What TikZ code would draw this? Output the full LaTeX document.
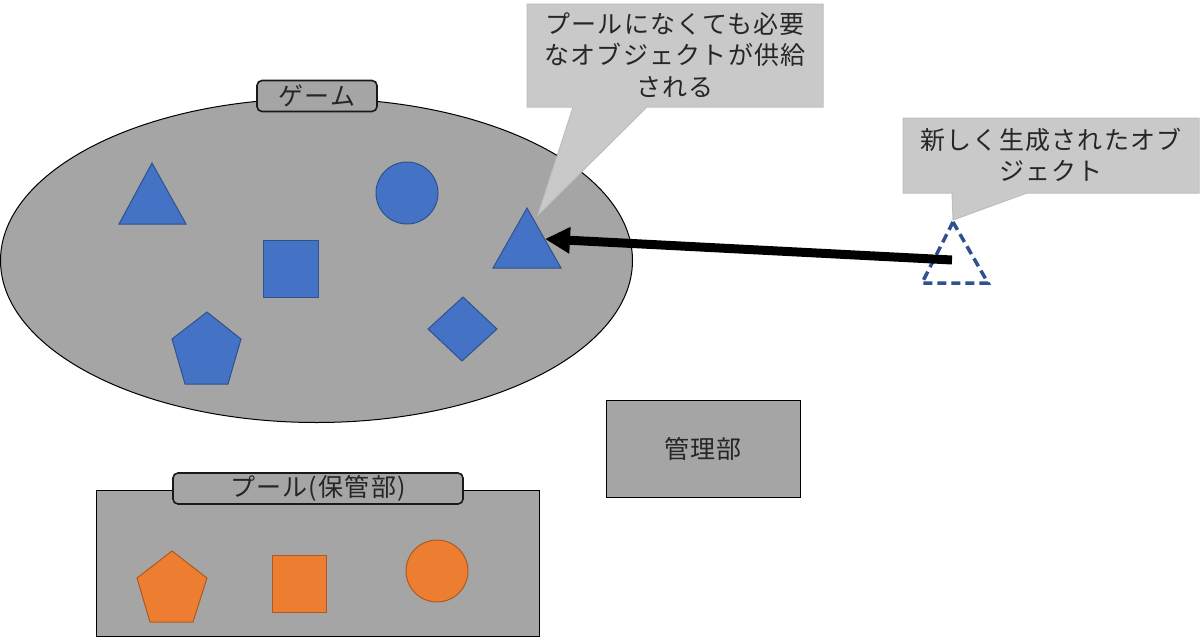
\documentclass[tikz,border=0pt]{standalone}
\usepackage{fontspec}
\newfontfamily\jp[LetterSpace=5]{Noto Sans CJK JP}
\usetikzlibrary{arrows.meta,shapes.geometric}
\definecolor{panelgray}{HTML}{A5A5A5}
\definecolor{blueF}{HTML}{4472C4}
\definecolor{blueD}{HTML}{2F528F}
\definecolor{orF}{HTML}{ED7D31}
\definecolor{orD}{HTML}{AE5A21}
\definecolor{callF}{HTML}{C9C9C9}
\definecolor{callD}{HTML}{BEBEBE}
\definecolor{txt}{HTML}{262626}
\tikzset{
  jtext/.style={font=\jp\fontsize{25}{31.5}\selectfont, text=txt, align=center, inner sep=0pt},
  panel/.style={draw=black, fill=panelgray, line width=1pt, inner sep=0pt},
  labelbox/.style={draw=black!90, fill=panelgray, line width=1.6pt, rounded corners=5pt, inner sep=0pt, font=\jp\fontsize{25}{31}\selectfont, text=txt},
  blueshape/.style={fill=blueF, draw=blueD, line width=1pt},
  orshape/.style={fill=orF, draw=orD, line width=1pt},
  callout/.style={fill=callF, draw=callD, line width=1pt},
  newobj/.style={draw=blueD, line width=3.5pt, dash pattern=on 9pt off 5pt, line join=miter},
  bigarrow/.style={line width=9pt, -{Triangle[length=25pt,width=25pt]}}
}
\begin{document}
\begin{tikzpicture}[x=1pt,y=-1pt]
\useasboundingbox (0,0) rectangle (1200,637);

% game ellipse
\node (game) [panel, ellipse, minimum width=632pt, minimum height=324pt] at (316.5,260.5) {};
\node (gamelabel) [labelbox, minimum width=120pt, minimum height=31pt] at (317,96) {ゲーム};

% blue objects
\draw[blueshape] (152,163) -- (186,224) -- (119,224) -- cycle;
\draw[blueshape] (407,193) circle [radius=31];
\draw[blueshape] (263,240) rectangle (318,297);
\draw[blueshape] (207,312) -- (241,339) -- (228,384) -- (185,384) -- (172,339) -- cycle;
\draw[blueshape] (463,297) -- (497,329) -- (462,361) -- (428,329) -- cycle;
\draw[blueshape] (527,208) -- (561,268) -- (493,268) -- cycle;
\coordinate (target) at (545,239);

% pool
\node (pool) [panel, minimum width=443pt, minimum height=146pt, anchor=north west] at (96,490) {};
\node (poollabel) [labelbox, minimum width=290pt, minimum height=31pt] at (318,488.5) {プール(保管部)};
\draw[orshape] (172,551) -- (207,578) -- (193,622) -- (150,622) -- (137,578) -- cycle;
\draw[orshape] (272,555) rectangle (326,612);
\draw[orshape] (437,571) circle [radius=31];

% manager
\node (manager) [panel, minimum width=194pt, minimum height=97pt, jtext, text width=194pt] at (703,448.5) {管理部};

% callout 1
\path[callout] (527,4) -- (823,4) -- (823,107) -- (647,107) -- (538,215) -- (573,107) -- (527,107) -- cycle;
\node (note1) [jtext] at (675,55) {プールになくても必要\\なオブジェクトが供給\\される};

% new object
\draw[newobj] (953,222) -- (988,283) -- (922,283) -- cycle;
\coordinate (source) at (952,260);

% callout 2
\path[callout] (903,118) -- (1199,118) -- (1199,193) -- (1027,193) -- (953,220) -- (952,193) -- (903,193) -- cycle;
\node (note2) [jtext] at (1051,155) {新しく生成されたオブ\\ジェクト};

% arrow
\draw[bigarrow] (source) -- (target);
\end{tikzpicture}
\end{document}
